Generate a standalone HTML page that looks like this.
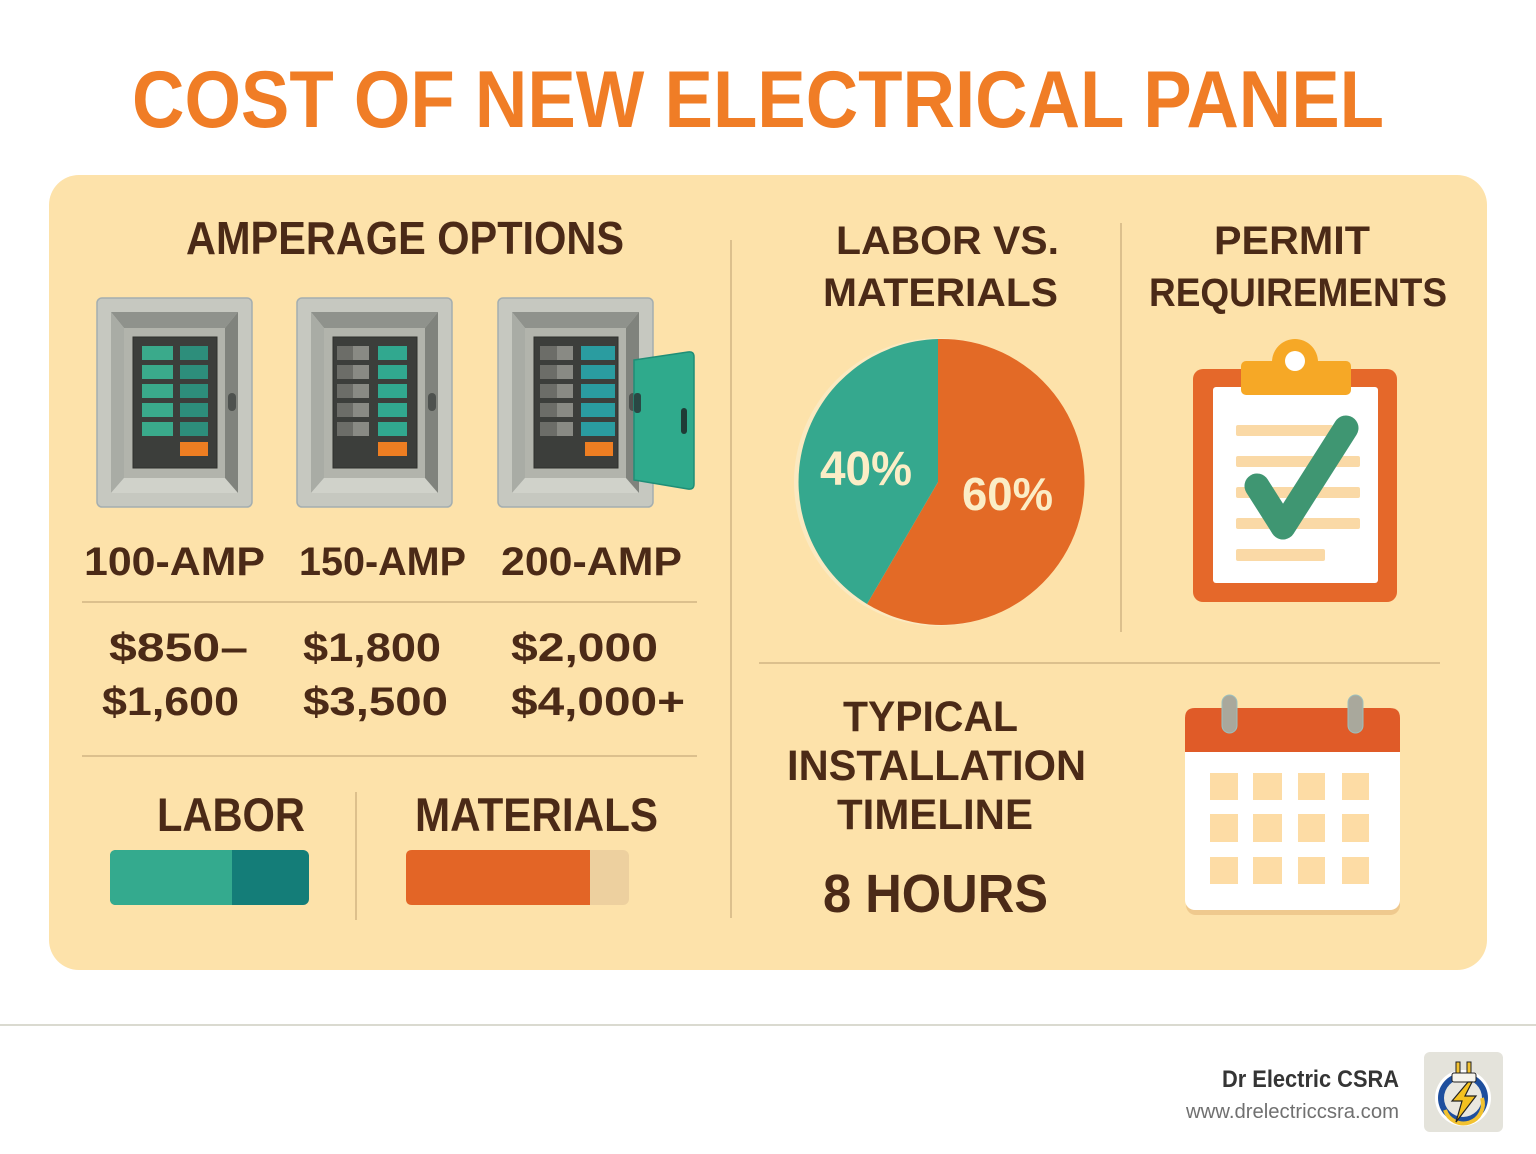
<!DOCTYPE html>
<html><head><meta charset="utf-8"><style>
html,body{margin:0;padding:0;background:#fff;}
svg{display:block;}
text{font-family:"Liberation Sans",Arial,sans-serif;font-weight:bold;}
</style></head><body>
<svg width="1536" height="1154" viewBox="0 0 1536 1154" xmlns="http://www.w3.org/2000/svg">
<rect x="0" y="0" width="1536" height="1154" fill="#ffffff"/>
<!-- Title -->
<text x="132" y="127" font-size="81" fill="#F07D26" textLength="1252" lengthAdjust="spacingAndGlyphs">COST OF NEW ELECTRICAL PANEL</text>
<!-- Card -->
<rect x="49" y="175" width="1438" height="795" rx="30" fill="#FDE2AA"/>

<!-- dividers -->
<g stroke="#D2B583" stroke-width="1.5" fill="none">
<line x1="731" y1="240" x2="731" y2="918"/>
<line x1="1121" y1="223" x2="1121" y2="632"/>
<line x1="759" y1="663" x2="1440" y2="663"/>
<line x1="82" y1="602" x2="697" y2="602"/>
<line x1="82" y1="756" x2="697" y2="756"/>
<line x1="356" y1="792" x2="356" y2="920"/>
</g>

<g fill="#4B2A17">
<text x="186" y="254" font-size="46" textLength="438" lengthAdjust="spacingAndGlyphs">AMPERAGE OPTIONS</text>
<text x="836" y="254" font-size="40" textLength="223" lengthAdjust="spacingAndGlyphs">LABOR VS.</text>
<text x="823" y="306" font-size="40" textLength="235" lengthAdjust="spacingAndGlyphs">MATERIALS</text>
<text x="1214" y="254" font-size="40" textLength="156" lengthAdjust="spacingAndGlyphs">PERMIT</text>
<text x="1149" y="306" font-size="40" textLength="298" lengthAdjust="spacingAndGlyphs">REQUIREMENTS</text>

<text x="84" y="575" font-size="40" textLength="181" lengthAdjust="spacingAndGlyphs">100-AMP</text>
<text x="299" y="575" font-size="40" textLength="167" lengthAdjust="spacingAndGlyphs">150-AMP</text>
<text x="501" y="575" font-size="40" textLength="181" lengthAdjust="spacingAndGlyphs">200-AMP</text>

<text x="109" y="661" font-size="40" textLength="139" lengthAdjust="spacingAndGlyphs">$850–</text>
<text x="102" y="715" font-size="40" textLength="137" lengthAdjust="spacingAndGlyphs">$1,600</text>
<text x="303" y="661" font-size="40" textLength="138" lengthAdjust="spacingAndGlyphs">$1,800</text>
<text x="303" y="715" font-size="40" textLength="145" lengthAdjust="spacingAndGlyphs">$3,500</text>
<text x="511" y="661" font-size="40" textLength="147" lengthAdjust="spacingAndGlyphs">$2,000</text>
<text x="511" y="715" font-size="40" textLength="174" lengthAdjust="spacingAndGlyphs">$4,000+</text>

<text x="157" y="831" font-size="47" textLength="148" lengthAdjust="spacingAndGlyphs">LABOR</text>
<text x="415" y="831" font-size="47" textLength="243" lengthAdjust="spacingAndGlyphs">MATERIALS</text>

<text x="843" y="731" font-size="43" textLength="175" lengthAdjust="spacingAndGlyphs">TYPICAL</text>
<text x="787" y="780" font-size="43" textLength="299" lengthAdjust="spacingAndGlyphs">INSTALLATION</text>
<text x="837" y="829" font-size="43" textLength="196" lengthAdjust="spacingAndGlyphs">TIMELINE</text>
<text x="823" y="912" font-size="54" textLength="225" lengthAdjust="spacingAndGlyphs">8 HOURS</text>
</g>

<!-- Bars -->
<rect x="110" y="850" width="199" height="55" rx="6" fill="#147D78"/>
<path d="M116,850 H232 V905 H116 Q110,905 110,899 V856 Q110,850 116,850 Z" fill="#34AA8E"/>
<rect x="406" y="850" width="223" height="55" rx="6" fill="#EDD09F"/>
<path d="M412,850 H590 V905 H412 Q406,905 406,899 V856 Q406,850 412,850 Z" fill="#E36526"/>

<!-- Panels -->
<defs>
<g id="frame">
<rect x="0" y="0" width="155" height="209" rx="5" fill="#C6C8C0" stroke="#A4AEB0" stroke-width="1.5"/>
<polygon points="14,14 141,14 128,30 27,30" fill="#8F928C"/>
<polygon points="14,14 27,30 27,180 14,195" fill="#A9ACA5"/>
<polygon points="14,195 141,195 128,180 27,180" fill="#D0D2CA"/>
<polygon points="141,14 141,195 128,180 128,30" fill="#80837D"/>
<rect x="27" y="30" width="101" height="150" fill="#B2B4AC"/>
<rect x="36" y="39" width="84" height="131" fill="#3C3E3B" stroke="#2E302D" stroke-width="1"/>
<rect x="131" y="95" width="8" height="18" rx="4" fill="#4E524F"/>
</g>
</defs>

<!-- Panel 1 -->
<g transform="translate(97,298)">
<use href="#frame"/>
<g fill="#3AAA8B">
<rect x="45" y="48" width="31" height="14"/><rect x="45" y="67" width="31" height="14"/><rect x="45" y="86" width="31" height="14"/><rect x="45" y="105" width="31" height="14"/><rect x="45" y="124" width="31" height="14"/>
</g>
<g fill="#2D8E7B">
<rect x="83" y="48" width="28" height="14"/><rect x="83" y="67" width="28" height="14"/><rect x="83" y="86" width="28" height="14"/><rect x="83" y="105" width="28" height="14"/><rect x="83" y="124" width="28" height="14"/>
</g>
<rect x="83" y="144" width="28" height="14" fill="#EE7E22"/>
</g>

<!-- Panel 2 -->
<g transform="translate(297,298)">
<use href="#frame"/>
<g fill="#6C6D68">
<rect x="40" y="48" width="32" height="14"/><rect x="40" y="67" width="32" height="14"/><rect x="40" y="86" width="32" height="14"/><rect x="40" y="105" width="32" height="14"/><rect x="40" y="124" width="32" height="14"/>
</g>
<g fill="#898A84">
<rect x="56" y="48" width="16" height="14"/><rect x="56" y="67" width="16" height="14"/><rect x="56" y="86" width="16" height="14"/><rect x="56" y="105" width="16" height="14"/><rect x="56" y="124" width="16" height="14"/>
</g>
<g fill="#31A88F">
<rect x="81" y="48" width="29" height="14"/><rect x="81" y="67" width="29" height="14"/><rect x="81" y="86" width="29" height="14"/><rect x="81" y="105" width="29" height="14"/><rect x="81" y="124" width="29" height="14"/>
</g>
<rect x="81" y="144" width="29" height="14" fill="#EE7E22"/>
</g>

<!-- Panel 3 -->
<g transform="translate(498,298)">
<use href="#frame"/>
<g fill="#6C6D68">
<rect x="42" y="48" width="33" height="14"/><rect x="42" y="67" width="33" height="14"/><rect x="42" y="86" width="33" height="14"/><rect x="42" y="105" width="33" height="14"/><rect x="42" y="124" width="33" height="14"/>
</g>
<g fill="#898A84">
<rect x="59" y="48" width="16" height="14"/><rect x="59" y="67" width="16" height="14"/><rect x="59" y="86" width="16" height="14"/><rect x="59" y="105" width="16" height="14"/><rect x="59" y="124" width="16" height="14"/>
</g>
<g fill="#2A9CA0">
<rect x="83" y="48" width="34" height="14"/><rect x="83" y="67" width="34" height="14"/><rect x="83" y="86" width="34" height="14"/><rect x="83" y="105" width="34" height="14"/><rect x="83" y="124" width="34" height="14"/>
</g>
<rect x="87" y="144" width="28" height="14" fill="#EE7E22"/>
</g>
<!-- door -->
<path d="M634,360 L688,352 Q694,351 694,357 L694,484 Q694,490 688,489 L634,480 Z" fill="#2FAA8C" stroke="#1F8E77" stroke-width="1.5"/>
<rect x="681" y="408" width="6" height="26" rx="3" fill="#1F3B36"/>
<rect x="634" y="393" width="7" height="20" rx="3" fill="#2A4844"/>

<!-- Pie -->
<circle cx="938" cy="482" r="144" fill="#FBE9C0"/>
<path d="M938,482 L938,339 A143,143 0 1 1 867,604 Z" fill="#E36A26"/>
<path d="M938,482 L938,339 A143,143 0 0 0 867,604 Z" fill="#35A88E"/>
<text x="820" y="485" font-size="48" fill="#FBEDC6" textLength="92" lengthAdjust="spacingAndGlyphs">40%</text>
<text x="962" y="510" font-size="46" fill="#FBEDC6" textLength="91" lengthAdjust="spacingAndGlyphs">60%</text>

<!-- Clipboard -->
<rect x="1193" y="369" width="204" height="233" rx="10" fill="#E5682A"/>
<rect x="1213" y="387" width="165" height="196" rx="3" fill="#FFFFFF"/>
<g fill="#FAD9A6">
<rect x="1236" y="425" width="97" height="11" rx="2"/>
<rect x="1236" y="456" width="124" height="11" rx="2"/>
<rect x="1236" y="487" width="124" height="11" rx="2"/>
<rect x="1236" y="518" width="124" height="11" rx="2"/>
<rect x="1236" y="549" width="89" height="12" rx="2"/>
</g>
<circle cx="1295" cy="362" r="23" fill="#F6A826"/>
<rect x="1241" y="361" width="110" height="34" rx="5" fill="#F6A826"/>
<circle cx="1295" cy="361" r="10" fill="#FFFFFF"/>
<polyline points="1257,486 1283,527 1346,428" fill="none" stroke="#3F9672" stroke-width="25" stroke-linecap="round" stroke-linejoin="round"/>

<!-- Calendar -->
<rect x="1186" y="712" width="214" height="203" rx="10" fill="#EFC98E"/>
<rect x="1185" y="708" width="215" height="202" rx="10" fill="#FFFFFF"/>
<path d="M1185,752 V718 Q1185,708 1195,708 H1390 Q1400,708 1400,718 V752 Z" fill="#E05B28"/>
<rect x="1222" y="695" width="15" height="38" rx="7.5" fill="#A9A89C" stroke="#9CC0BE" stroke-width="1"/>
<rect x="1348" y="695" width="15" height="38" rx="7.5" fill="#A9A89C" stroke="#9CC0BE" stroke-width="1"/>
<g fill="#FDDCA5">
<rect x="1210" y="773" width="28" height="27"/><rect x="1253" y="773" width="29" height="27"/><rect x="1298" y="773" width="27" height="27"/><rect x="1342" y="773" width="27" height="27"/>
<rect x="1210" y="814" width="28" height="28"/><rect x="1253" y="814" width="29" height="28"/><rect x="1298" y="814" width="27" height="28"/><rect x="1342" y="814" width="27" height="28"/>
<rect x="1210" y="857" width="28" height="27"/><rect x="1253" y="857" width="29" height="27"/><rect x="1298" y="857" width="27" height="27"/><rect x="1342" y="857" width="27" height="27"/>
</g>

<!-- Footer -->
<rect x="0" y="1024" width="1536" height="2" fill="#DADAD0"/>
<text x="1222" y="1087" font-size="24" fill="#353535" textLength="177" lengthAdjust="spacingAndGlyphs">Dr Electric CSRA</text>
<text x="1186" y="1118" font-size="20" fill="#707070" style="font-weight:normal" textLength="213" lengthAdjust="spacingAndGlyphs">www.drelectriccsra.com</text>
<rect x="1424" y="1052" width="79" height="80" rx="6" fill="#E4E3DB"/>
<circle cx="1463" cy="1098" r="28" fill="#FFFFFF"/>
<circle cx="1463" cy="1098" r="25" fill="#1E4F9E"/>
<circle cx="1463" cy="1098" r="19" fill="#E9E7DF"/>
<path d="M1445,1110 A19,19 0 0 0 1482,1098" fill="none" stroke="#F2C230" stroke-width="4"/>
<rect x="1456" y="1062" width="4" height="12" fill="#F2C230" stroke="#222" stroke-width="1"/>
<rect x="1467" y="1062" width="4" height="12" fill="#F2C230" stroke="#222" stroke-width="1"/>
<rect x="1452" y="1073" width="24" height="9" rx="2" fill="#F6F4EC" stroke="#222" stroke-width="1"/>
<polygon points="1468,1082 1452,1101 1462,1101 1456,1122 1476,1096 1465,1096 1472,1082" fill="#F4C11F" stroke="#222" stroke-width="1.2"/>
</svg>
</body></html>
